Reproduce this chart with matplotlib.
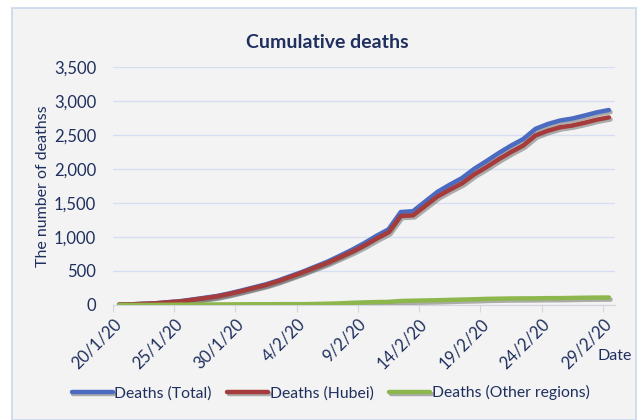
import matplotlib.pyplot as plt
import matplotlib.patheffects as pe
from matplotlib.patches import Rectangle
from matplotlib.ticker import FuncFormatter
import numpy as np

# daily cumulative deaths, 20/1/20 .. 29/2/20
dates = ['20/1/20', '21/1/20', '22/1/20', '23/1/20', '24/1/20', '25/1/20', '26/1/20',
         '27/1/20', '28/1/20', '29/1/20', '30/1/20', '31/1/20', '1/2/20', '2/2/20',
         '3/2/20', '4/2/20', '5/2/20', '6/2/20', '7/2/20', '8/2/20', '9/2/20',
         '10/2/20', '11/2/20', '12/2/20', '13/2/20', '14/2/20', '15/2/20', '16/2/20',
         '17/2/20', '18/2/20', '19/2/20', '20/2/20', '21/2/20', '22/2/20', '23/2/20',
         '24/2/20', '25/2/20', '26/2/20', '27/2/20', '28/2/20', '29/2/20']
deaths_total = [6, 9, 17, 25, 41, 56, 80, 106, 132, 170, 213, 259, 304, 361, 425, 490,
                563, 636, 722, 811, 908, 1016, 1113, 1368, 1380, 1523, 1665, 1770, 1868,
                2004, 2118, 2236, 2345, 2442, 2592, 2663, 2715, 2744, 2788, 2835, 2870]
deaths_hubei = [6, 9, 17, 24, 39, 52, 76, 100, 125, 162, 204, 249, 294, 350, 414, 479,
                549, 618, 699, 780, 871, 974, 1068, 1310, 1318, 1457, 1596, 1696, 1789,
                1921, 2029, 2144, 2250, 2346, 2495, 2563, 2615, 2641, 2682, 2727, 2761]
deaths_other = [0, 0, 0, 1, 2, 4, 4, 6, 7, 8, 9, 10, 10, 11, 11, 11, 14, 18, 23, 31,
                37, 42, 45, 58, 62, 66, 69, 74, 79, 83, 89, 92, 95, 96, 97, 100, 100,
                103, 106, 108, 109]
tick_labels = dates[::5]

navy = '#1f2f5e'
plt.rcParams['font.family'] = ['Lato', 'DejaVu Sans']

fig = plt.figure(figsize=(6.42, 4.2), dpi=100)
fig.patch.set_facecolor('white')
fig.patches.append(Rectangle((0.019, 0.0), 0.972, 0.98, transform=fig.transFigure,
                             facecolor='#f3f3f3', edgecolor='#c9d8ee', linewidth=1.2,
                             zorder=-10))

ax = fig.add_axes([0.176, 0.274, 0.782, 0.566])
ax.set_facecolor('none')

x = np.arange(len(dates)) + 0.5
series = [(deaths_total, '#4a6bc0', 'Deaths (Total)'),
          (deaths_hubei, '#a53b3a', 'Deaths (Hubei)'),
          (deaths_other, '#8db74c', 'Deaths (Other regions)')]
shadow = [pe.SimpleLineShadow(offset=(1.2, -1.5), shadow_color='#555555', alpha=0.45),
          pe.Normal()]
for vals, col, lab in series:
    ax.plot(x, vals, color=col, lw=3.2, label=lab, solid_capstyle='round',
            solid_joinstyle='round', path_effects=shadow, zorder=3)

ax.set_xlim(0, len(dates))
ax.set_ylim(0, 3500)
ax.set_yticks(range(0, 3501, 500))
ax.yaxis.set_major_formatter(FuncFormatter(lambda v, p: f'{int(v):,}'))
ax.grid(axis='y', color='#d5dff1', lw=1)
ax.set_axisbelow(True)

ax.set_xticks(range(0, len(dates), 5))
ax.set_xticklabels(tick_labels, rotation=45, ha='right', va='top',
                   rotation_mode='anchor', fontsize=12, color=navy)
for s in ['top', 'right', 'left']:
    ax.spines[s].set_visible(False)
ax.spines['bottom'].set_color('#d3d6dc')
ax.tick_params(axis='x', length=5, color='#d3d6dc', pad=3)
ax.tick_params(axis='y', length=0, labelsize=12, labelcolor=navy, pad=12)

ax.set_ylabel('The number of deathss', fontsize=11.5, color=navy, labelpad=3)
fig.text(0.51, 0.9, 'Cumulative deaths', ha='center', va='center',
         fontsize=14, fontweight='bold', color=navy)
fig.text(0.958, 0.152, 'Date', ha='center', va='center', fontsize=11.5, color=navy)

leg = fig.legend(loc='center', bbox_to_anchor=(0.515, 0.065), ncol=3, frameon=False,
                 fontsize=11.3, handlelength=2.6, handletextpad=0.1, columnspacing=1.0,
                 labelcolor=navy)

fig.savefig('out.png', dpi=100)
